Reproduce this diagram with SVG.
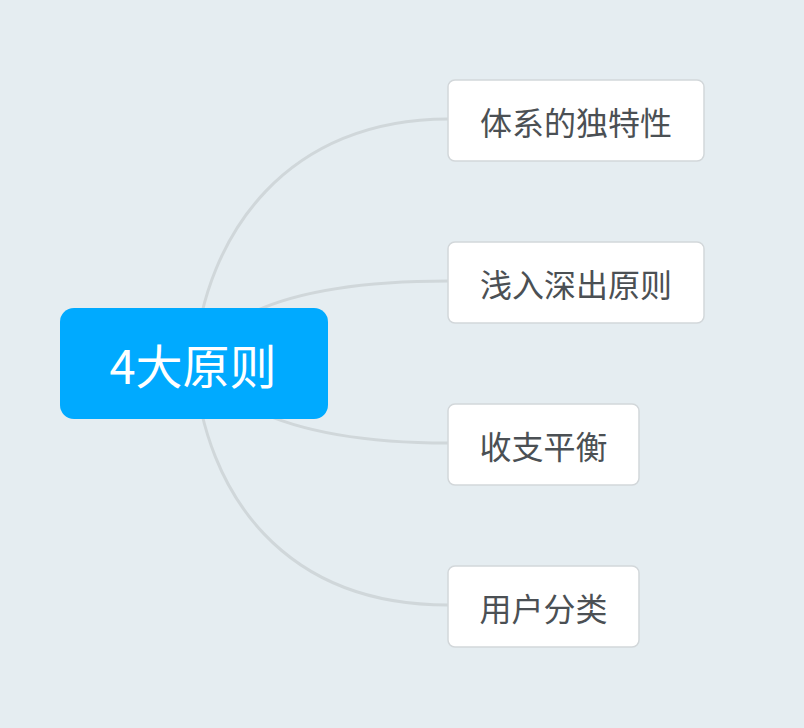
<svg xmlns="http://www.w3.org/2000/svg" width="804" height="728" viewBox="0 0 804 728">
<style>
.conn{fill:none;stroke:#d0d7da;stroke-width:3}
.child rect{fill:#ffffff;stroke:#d2d7da;stroke-width:1.5}
.child text{font-family:"Noto Sans CJK SC","Noto Sans",sans-serif;font-size:32px;fill:#4b5054;text-anchor:middle;dominant-baseline:central}
.root rect{fill:#00aaff}
.root text{font-family:"Noto Sans CJK SC","Noto Sans",sans-serif;font-size:47px;fill:#ffffff;text-anchor:middle;dominant-baseline:central}
</style>
<rect x="0" y="0" width="804" height="728" fill="#e5edf1"/>
<g id="connectors">
<path class="conn" d="M194,363 C205,230 290,119 448,119"/>
<path class="conn" d="M194,363 Q240,281 448,281"/>
<path class="conn" d="M194,363 Q257,443 448,443"/>
<path class="conn" d="M194,363 C205,496 285,605 448,605"/>
</g>
<g id="root" class="root">
<rect x="60" y="308" width="268" height="111" rx="14"/>
<text x="193" y="363">4大原则</text>
</g>
<g id="n1" class="child">
<rect x="448" y="80" width="256" height="81" rx="7"/>
<text x="576" y="120.5">体系的独特性</text>
</g>
<g id="n2" class="child">
<rect x="448" y="242" width="256" height="81" rx="7"/>
<text x="576" y="282.5">浅入深出原则</text>
</g>
<g id="n3" class="child">
<rect x="448" y="404" width="191" height="81" rx="7"/>
<text x="543.5" y="444.5">收支平衡</text>
</g>
<g id="n4" class="child">
<rect x="448" y="566" width="191" height="81" rx="7"/>
<text x="543.5" y="606.5">用户分类</text>
</g>
</svg>
